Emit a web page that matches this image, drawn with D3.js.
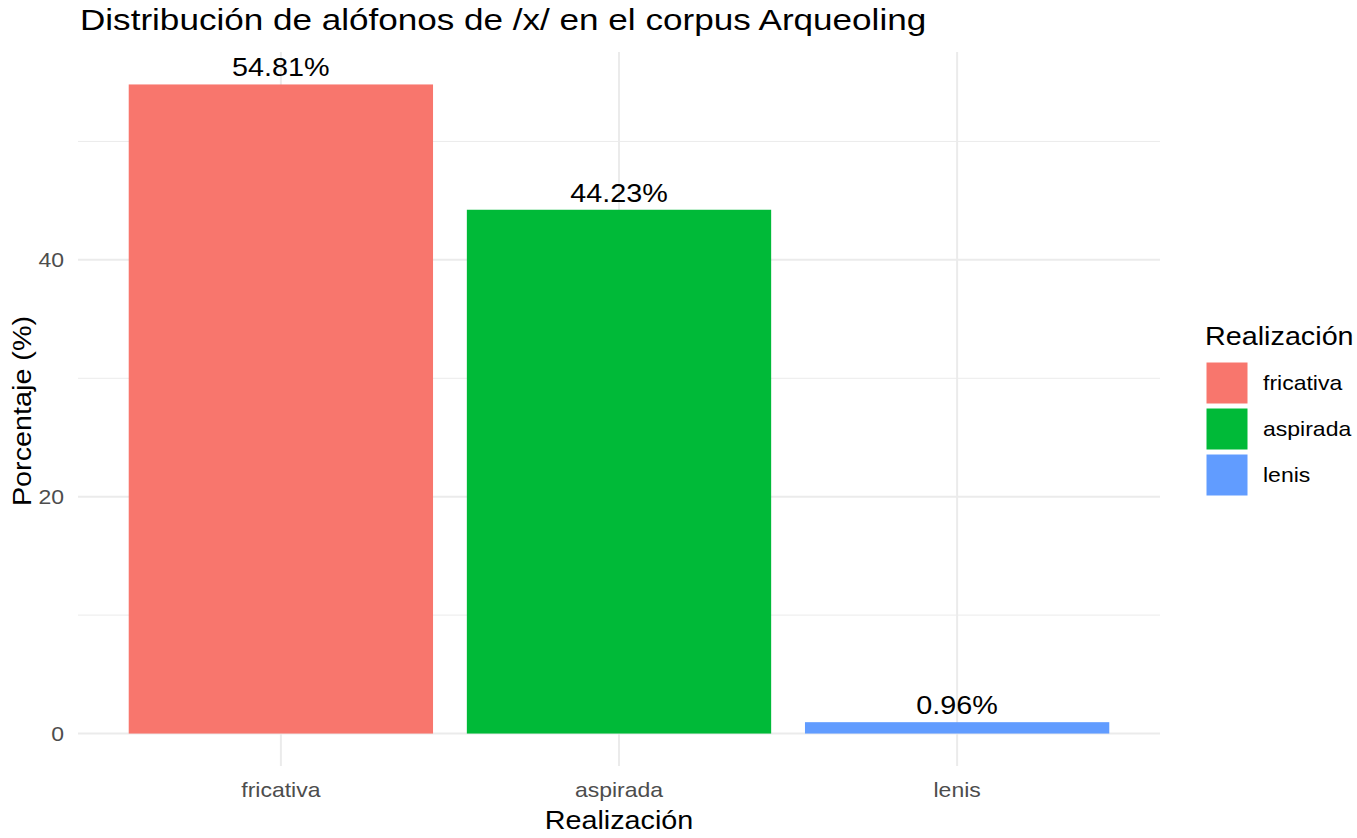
<!DOCTYPE html>
<html>
<head>
<meta charset="utf-8">
<script src="https://cdn.jsdelivr.net/npm/d3@7"></script>
<style>
  body { margin: 0; background: #fff; }
  text { font-family: "Liberation Sans", Arial, sans-serif; }
</style>
</head>
<body>
<div id="chart"></div>
<script>
// data
var categories = ["fricativa", "aspirada", "lenis"];
var percentages = [54.81, 44.23, 0.96];
var barColors = ["#F8766D", "#00BA38", "#619CFF"];
var yTicks = [0, 20, 40];
var yMinorTicks = [10, 30, 50];

var width = 1357, height = 838;
var panel = { left: 78, right: 1160, top: 52, bottom: 766 };
var stretch = 1.15; // reference glyphs are a bit wider than Liberation Sans

function place(x, y, rot, s) {
    return "translate(" + x + "," + y + ")" + (rot ? " rotate(" + rot + ")" : "") + " scale(" + (s || stretch) + ",1)";
}

var svg = d3.select("#chart").append("svg")
    .attr("width", width)
    .attr("height", height);

var ymax = d3.max(percentages);
var pad = ymax * 0.05;
var y = d3.scaleLinear()
    .domain([-pad, ymax + pad])
    .range([panel.bottom, panel.top]);

var x = d3.scaleBand()
    .domain(categories)
    .range([panel.left, panel.right])
    .paddingInner(0.1)
    .paddingOuter(0.15);

// grid
var grid = svg.append("g");
grid.selectAll("line.minor").data(yMinorTicks).enter().append("line")
    .attr("x1", panel.left).attr("x2", panel.right)
    .attr("y1", function(d) { return y(d); }).attr("y2", function(d) { return y(d); })
    .attr("stroke", "#ebebeb").attr("stroke-width", 1);
grid.selectAll("line.major").data(yTicks).enter().append("line")
    .attr("x1", panel.left).attr("x2", panel.right)
    .attr("y1", function(d) { return y(d); }).attr("y2", function(d) { return y(d); })
    .attr("stroke", "#ebebeb").attr("stroke-width", 2);
grid.selectAll("line.vx").data(categories).enter().append("line")
    .attr("x1", function(d) { return x(d) + x.bandwidth() / 2; })
    .attr("x2", function(d) { return x(d) + x.bandwidth() / 2; })
    .attr("y1", panel.top).attr("y2", panel.bottom)
    .attr("stroke", "#ebebeb").attr("stroke-width", 2);

// bars
svg.selectAll("rect.bar").data(categories).enter().append("rect")
    .attr("x", function(d) { return x(d); })
    .attr("width", x.bandwidth())
    .attr("y", function(d, i) { return y(percentages[i]); })
    .attr("height", function(d, i) { return y(0) - y(percentages[i]); })
    .attr("fill", function(d, i) { return barColors[i]; });

// value labels
svg.selectAll("text.val").data(categories).enter().append("text")
    .attr("transform", function(d, i) { return place(x(d) + x.bandwidth() / 2, y(percentages[i]) - 8); })
    .attr("text-anchor", "middle")
    .attr("font-size", 25)
    .attr("fill", "#000")
    .text(function(d, i) { return percentages[i].toFixed(2) + "%"; });

// y tick labels
svg.selectAll("text.yt").data(yTicks).enter().append("text")
    .attr("transform", function(d) { return place(panel.left - 14, y(d)); })
    .attr("dy", "0.35em")
    .attr("text-anchor", "end")
    .attr("font-size", 20)
    .attr("fill", "#4d4d4d")
    .text(function(d) { return d; });

// x tick labels
svg.selectAll("text.xt").data(categories).enter().append("text")
    .attr("transform", function(d) { return place(x(d) + x.bandwidth() / 2, 797); })
    .attr("text-anchor", "middle")
    .attr("font-size", 20)
    .attr("fill", "#4d4d4d")
    .text(function(d) { return d; });

// axis titles
svg.append("text")
    .attr("transform", place((panel.left + panel.right) / 2, 829))
    .attr("text-anchor", "middle")
    .attr("font-size", 25)
    .text("Realización");

svg.append("text")
    .attr("transform", place(31, (panel.top + panel.bottom) / 2 + 2, -90))
    .attr("text-anchor", "middle")
    .attr("font-size", 25)
    .text("Porcentaje (%)");

// title
svg.append("text")
    .attr("transform", place(80, 30, 0, 1.17))
    .attr("font-size", 30)
    .text("Distribución de alófonos de /x/ en el corpus Arqueoling");

// legend
var legend = svg.append("g").attr("transform", "translate(1205,0)");
legend.append("text")
    .attr("transform", place(0, 345))
    .attr("font-size", 25)
    .text("Realización");
var keys = legend.selectAll("g.key").data(categories).enter().append("g")
    .attr("transform", function(d, i) { return "translate(0," + (362 + i * 46) + ")"; });
keys.append("rect")
    .attr("x", 1).attr("y", 0)
    .attr("width", 42).attr("height", 42)
    .attr("fill", function(d, i) { return barColors[i]; })
    .attr("stroke", "#fff").attr("stroke-width", 1);
keys.append("text")
    .attr("transform", place(58, 21))
    .attr("dy", "0.35em")
    .attr("font-size", 20)
    .text(function(d) { return d; });
</script>
</body>
</html>
